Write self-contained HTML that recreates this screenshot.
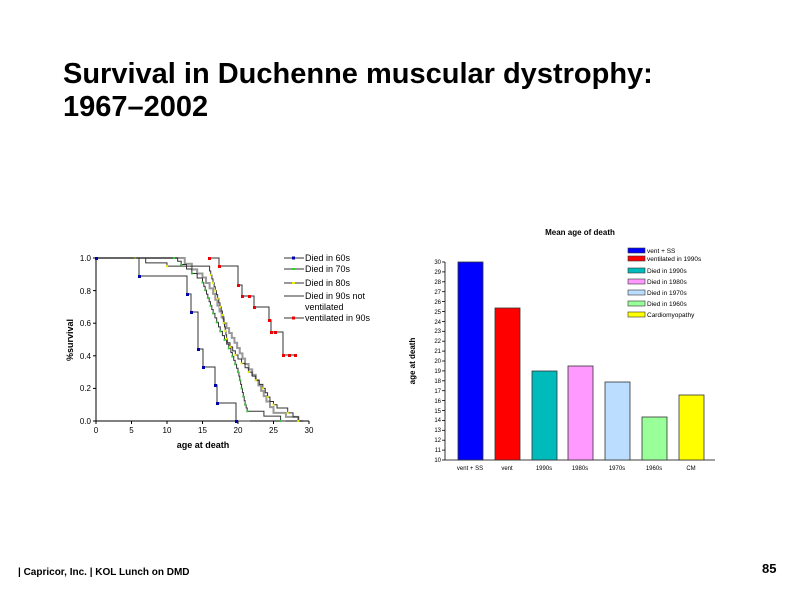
<!DOCTYPE html>
<html><head><meta charset="utf-8"><style>
body{margin:0;background:#fff;width:800px;height:601px;overflow:hidden;font-family:"Liberation Sans",sans-serif}
</style></head><body>
<svg id="s" width="800" height="601" viewBox="0 0 800 601" xmlns="http://www.w3.org/2000/svg" font-family="Liberation Sans, sans-serif">
<text x="63" y="83" font-size="29" font-weight="bold">Survival in Duchenne muscular dystrophy:</text>
<text x="63" y="116" font-size="29" font-weight="bold">1967–2002</text>
<text x="18" y="575" font-size="10" font-weight="bold">| Capricor, Inc. | KOL Lunch on DMD</text>
<text x="762" y="573" font-size="13" font-weight="bold">85</text>

<!-- left chart -->
<g stroke="#000" stroke-width="1" fill="none">
<line x1="96" y1="258" x2="96" y2="421"/><line x1="96" y1="421" x2="309" y2="421"/>
<line x1="93" y1="258" x2="96" y2="258"/><line x1="93" y1="290.6" x2="96" y2="290.6"/><line x1="93" y1="323.2" x2="96" y2="323.2"/><line x1="93" y1="355.8" x2="96" y2="355.8"/><line x1="93" y1="388.4" x2="96" y2="388.4"/><line x1="93" y1="421" x2="96" y2="421"/>
<line x1="96" y1="421" x2="96" y2="424"/><line x1="131.5" y1="421" x2="131.5" y2="424"/><line x1="167" y1="421" x2="167" y2="424"/><line x1="202.5" y1="421" x2="202.5" y2="424"/><line x1="238" y1="421" x2="238" y2="424"/><line x1="273.5" y1="421" x2="273.5" y2="424"/><line x1="309" y1="421" x2="309" y2="424"/>
</g>
<g font-size="8" text-anchor="end">
<text x="91" y="261">1.0</text><text x="91" y="294">0.8</text><text x="91" y="326">0.6</text><text x="91" y="359">0.4</text><text x="91" y="391">0.2</text><text x="91" y="424">0.0</text>
</g>
<g font-size="8" text-anchor="middle">
<text x="96" y="433">0</text><text x="131.5" y="433">5</text><text x="167" y="433">10</text><text x="202.5" y="433">15</text><text x="238" y="433">20</text><text x="273.5" y="433">25</text><text x="309" y="433">30</text>
</g>
<text x="203" y="448" font-size="9" font-weight="bold" text-anchor="middle">age at death</text>
<text transform="translate(73,340) rotate(-90)" font-size="9" font-weight="bold" text-anchor="middle">%survival</text>

<g id="curves" fill="none"></g>

<g fill="#00a">
<rect x="95" y="257" width="3" height="3"/><rect x="138" y="275" width="3" height="3"/><rect x="186" y="293" width="3" height="3"/><rect x="190" y="311" width="3" height="3"/><rect x="197" y="348" width="3" height="3"/><rect x="202" y="366" width="3" height="3"/><rect x="214" y="384" width="3" height="3"/><rect x="216" y="402" width="3" height="3"/><rect x="235" y="420" width="3" height="3"/>
</g>
<g fill="#e00">
<rect x="208" y="257" width="3" height="3"/><rect x="218" y="265" width="3" height="3"/><rect x="237" y="284" width="3" height="3"/><rect x="241" y="295" width="3" height="3"/><rect x="248" y="295" width="3" height="3"/><rect x="253" y="306" width="3" height="3"/><rect x="268" y="319" width="3" height="3"/><rect x="270" y="331" width="3" height="3"/><rect x="274" y="331" width="3" height="3"/><rect x="282" y="354" width="3" height="3"/><rect x="288" y="354" width="3" height="3"/><rect x="294" y="354" width="3" height="3"/>
</g>
<!-- legend -->
<g stroke-width="1">
<line x1="284" y1="258" x2="304" y2="258" stroke="#333"/><rect x="292" y="256.5" width="3" height="3" fill="#00a"/>
<line x1="284" y1="269" x2="304" y2="269" stroke="#333"/><rect x="292" y="268" width="3" height="2" fill="#3c3"/>
<line x1="284" y1="283" x2="304" y2="283" stroke="#333"/><rect x="292" y="282" width="3" height="2" fill="#ee0"/>
<line x1="284" y1="296" x2="304" y2="296" stroke="#999" stroke-width="2"/>
<line x1="284" y1="318" x2="304" y2="318" stroke="#333"/><rect x="292" y="316.5" width="3" height="3" fill="#e00"/>
</g>
<g font-size="9">
<text x="305" y="261">Died in 60s</text><text x="305" y="272">Died in 70s</text><text x="305" y="286">Died in 80s</text><text x="305" y="299">Died in 90s not</text><text x="305" y="310">ventilated</text><text x="305" y="321">ventilated in 90s</text>
</g>

<!-- right chart -->
<text x="580" y="235" font-size="8" font-weight="bold" text-anchor="middle">Mean age of death</text>
<g stroke="#000" stroke-width="0.8" id="rax">
<line x1="445" y1="262" x2="445" y2="460"/><line x1="445" y1="460" x2="715" y2="460"/>
</g>
<g font-size="6" text-anchor="end">
<text x="441" y="462">10</text><text x="441" y="452">11</text><text x="441" y="442">12</text><text x="441" y="432">13</text><text x="441" y="422">14</text><text x="441" y="413">15</text><text x="441" y="403">16</text><text x="441" y="393">17</text><text x="441" y="383">18</text><text x="441" y="373">19</text><text x="441" y="363">20</text><text x="441" y="353">21</text><text x="441" y="343">22</text><text x="441" y="333">23</text><text x="441" y="324">24</text><text x="441" y="314">25</text><text x="441" y="304">26</text><text x="441" y="294">27</text><text x="441" y="284">28</text><text x="441" y="274">29</text><text x="441" y="264">30</text>
</g>
<text transform="translate(415,361) rotate(-90)" font-size="8" font-weight="bold" text-anchor="middle">age at death</text>
<g stroke="#333" stroke-width="0.8">
<rect x="458" y="262" width="25" height="198" fill="#00f"/>
<rect x="495" y="308" width="25" height="152" fill="#f00"/>
<rect x="532" y="371" width="25" height="89" fill="#0bb"/>
<rect x="568" y="366" width="25" height="94" fill="#f9f"/>
<rect x="605" y="382" width="25" height="78" fill="#bdf"/>
<rect x="642" y="417" width="25" height="43" fill="#9f9"/>
<rect x="679" y="395" width="25" height="65" fill="#ff0"/>
</g>
<g font-size="6" text-anchor="middle">
<text x="470" y="470">vent + SS</text><text x="507" y="470">vent</text><text x="544" y="470">1990s</text><text x="580" y="470">1980s</text><text x="617" y="470">1970s</text><text x="654" y="470">1960s</text><text x="691" y="470">CM</text>
</g>
<g stroke="#333" stroke-width="0.6">
<rect x="628" y="248" width="17" height="5" fill="#00f"/>
<rect x="628" y="256" width="17" height="5" fill="#f00"/>
<rect x="628" y="268" width="17" height="5" fill="#0bb"/>
<rect x="628" y="279" width="17" height="5" fill="#f9f"/>
<rect x="628" y="290" width="17" height="5" fill="#bdf"/>
<rect x="628" y="301" width="17" height="5" fill="#9f9"/>
<rect x="628" y="312" width="17" height="5" fill="#ff0"/>
</g>
<g font-size="6.5">
<text x="647" y="253">vent + SS</text><text x="647" y="261">ventilated in 1990s</text><text x="647" y="273">Died in 1990s</text><text x="647" y="284">Died in 1980s</text><text x="647" y="295">Died in 1970s</text><text x="647" y="306">Died in 1960s</text><text x="647" y="317">Cardiomyopathy</text>
</g>
</svg>
<script>
var NS="http://www.w3.org/2000/svg";
function X(a){return 96+a*7.1}function Y(v){return 421-v*163}
function steps(knots,n){ // knots [age,surv] smooth; generate n steps
  var pts=[[X(0),Y(knots[0][1])]];var out=[];
  var res=[];for(var i=0;i<knots.length-1;i++){var a=knots[i],b=knots[i+1];var k=Math.max(1,Math.round(Math.abs(a[1]-b[1])*n));
   for(var j=1;j<=k;j++){res.push([a[0]+(b[0]-a[0])*j/k,a[1]+(b[1]-a[1])*j/k]);}}
  var cur=knots[0][1],s=X(0)+","+Y(cur);var mk=[];
  res.forEach(function(p){s+=" "+X(p[0])+","+Y(cur)+" "+X(p[0])+","+Y(p[1]);cur=p[1];mk.push([X(p[0]),Y(p[1])]);});
  s+=" "+(X(knots[knots.length-1][0])+5)+","+Y(cur);return [s,mk];}
var g=document.getElementById("curves");
function add(knots,n,col,w,mc){var r=steps(knots,n);var p=document.createElementNS(NS,"polyline");p.setAttribute("points",r[0]);p.setAttribute("stroke",col);p.setAttribute("stroke-width",w);g.appendChild(p);
 if(mc)r[1].forEach(function(m,i){if(i%2)return;var q=document.createElementNS(NS,"rect");q.setAttribute("x",m[0]-1);q.setAttribute("y",m[1]-1);q.setAttribute("width",2);q.setAttribute("height",2);q.setAttribute("fill",mc);g.appendChild(q);});}
add([[0,1],[11.5,1],[13.5,0.93],[15,0.88],[16.5,0.78],[18,0.6],[19.5,0.48],[21,0.35],[22.5,0.25],[24,0.12],[25,0.05],[28.5,0]],30,"#999",2,null);
add([[0,1],[11,1],[12,0.96],[15,0.85],[16.5,0.66],[17.5,0.55],[19,0.42],[20,0.3],[20.5,0.2],[21,0.1],[21.3,0.06],[26,0]],40,"#333",1,"#3c3");
add([[0,1],[5.5,1],[7,0.97],[10,0.95],[16,0.92],[16.8,0.8],[17.8,0.65],[18.5,0.48],[20,0.38],[21.5,0.3],[23.5,0.2],[24.5,0.12],[25.5,0.08],[27,0.05],[28.5,0]],40,"#333",1,"#ee0");
var l=document.createElementNS(NS,"polyline");
l.setAttribute("points","96,258 139,258 139,276 187,276 187,294 191,294 191,312 198,312 198,349 203,349 203,367 215,367 215,385 217,385 217,403 236,403 236,421 250,421");l.setAttribute("stroke","#333");g.appendChild(l);
l=document.createElementNS(NS,"polyline");
l.setAttribute("points","210,258 219,258 219,266 238,266 238,285 242,285 242,296 254,296 254,307 269,307 269,320 271,320 271,332 283,332 283,355 296,355");l.setAttribute("stroke","#333");g.appendChild(l);
var ax=document.getElementById("rax");
for(var i=0;i<=20;i++){var t=document.createElementNS(NS,"line");var y=460-i*9.9;t.setAttribute("x1",442);t.setAttribute("x2",445);t.setAttribute("y1",y);t.setAttribute("y2",y);ax.appendChild(t);}
</script>
</body></html>
